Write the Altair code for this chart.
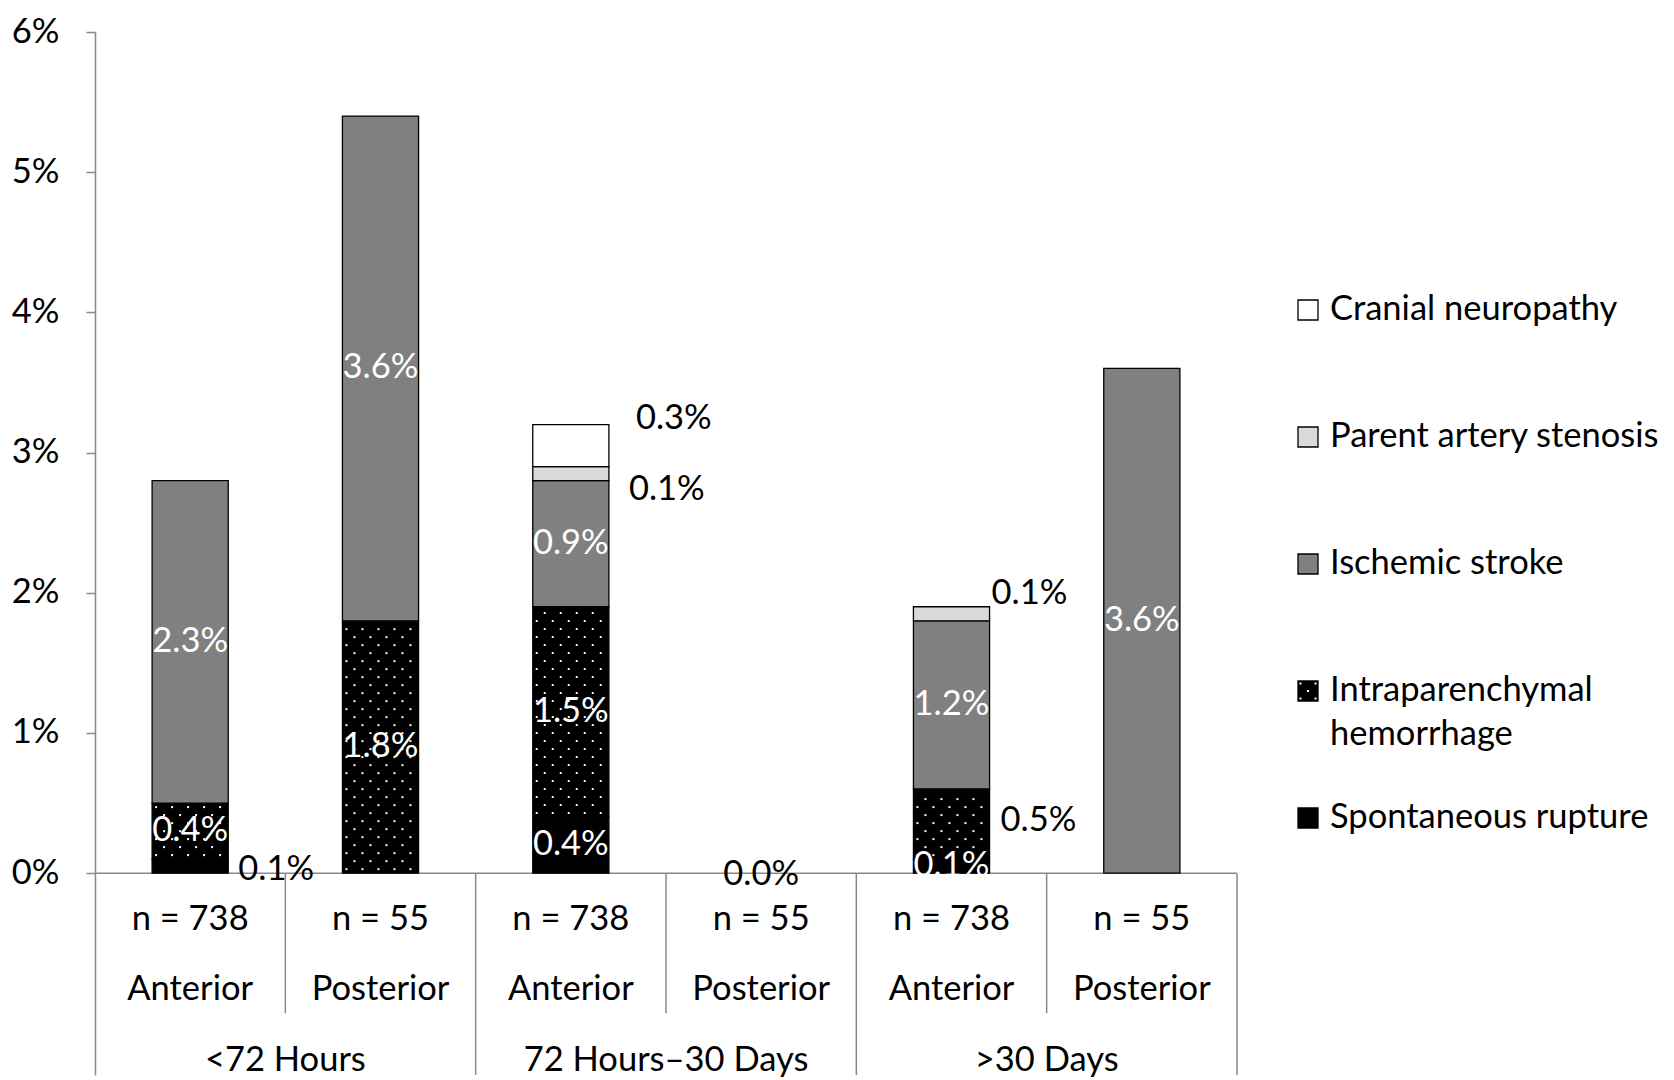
import altair as alt
import pandas as pd

# ---------------- data ----------------
timing = ["<72 Hours", "<72 Hours", "72 Hours–30 Days", "72 Hours–30 Days", ">30 Days", ">30 Days"]
location = ["Anterior", "Posterior", "Anterior", "Posterior", "Anterior", "Posterior"]
n_labels = ["n = 738", "n = 55", "n = 738", "n = 55", "n = 738", "n = 55"]

series = ["Spontaneous rupture", "Intraparenchymal hemorrhage", "Ischemic stroke",
          "Parent artery stenosis", "Cranial neuropathy"]
spontaneous = [0.1, 0.0, 0.4, 0.0, 0.1, 0.0]
iph = [0.4, 1.8, 1.5, 0.0, 0.5, 0.0]
ischemic = [2.3, 3.6, 0.9, 0.0, 1.2, 3.6]
stenosis = [0.0, 0.0, 0.1, 0.0, 0.1, 0.0]
cranial = [0.0, 0.0, 0.3, 0.0, 0.0, 0.0]

# where each data label sits: in = white inside, out = right of bar, zero = on baseline
spontaneous_lbl = ["out", "", "in", "zero", "in", ""]
iph_lbl = ["in", "in", "in", "", "out", ""]
ischemic_lbl = ["in", "in", "in", "", "in", "in"]
stenosis_lbl = ["", "", "out", "", "out", ""]
cranial_lbl = ["", "", "out", "", "", ""]

legend_order = ["Cranial neuropathy", "Parent artery stenosis", "Ischemic stroke",
                "Intraparenchymal hemorrhage", "Spontaneous rupture"]
legend_text = ["Cranial neuropathy", "Parent artery stenosis", "Ischemic stroke",
               "Intraparenchymal\nhemorrhage", "Spontaneous rupture"]
fills = ["#000000", "#000000", "#808080", "#d9d9d9", "#ffffff"]

# ---------------- style / layout ----------------
FONT = "Lato"
FS = 34.5
W, H = 1142, 1043
YMIN, YMAX = -1.44, 6.0
PXY = H / (YMAX - YMIN)
PXX = W / 6.0
DOT_DY = 8 / PXY
DOT_DX = 16 / PXX
HALF = 0.2  # half bar width in slot units
ROW1, ROW2, ROW3 = -47 / PXY, -117 / PXY, -188 / PXY
SUB_BOTTOM = -140 / PXY
AXIS_GRAY = "#898989"
# manual nudges (px: right, down) of data labels, like dragged labels in the original
LABEL_NUDGE = {
    (0, "Spontaneous rupture"): (0, 4),
    (2, "Cranial neuropathy"): (17, -27),
    (2, "Parent artery stenosis"): (10, 16),
    (3, "Spontaneous rupture"): (0, 2),
    (4, "Intraparenchymal hemorrhage"): (1, -3),
    (4, "Parent artery stenosis"): (-8, -20),
}

rows = []
for k, (s, vals, lbls) in enumerate(zip(series, [spontaneous, iph, ischemic, stenosis, cranial],
                                        [spontaneous_lbl, iph_lbl, ischemic_lbl, stenosis_lbl, cranial_lbl])):
    for i in range(6):
        ndx, ndy = LABEL_NUDGE.get((i, s), (0, 0))
        rows.append(dict(idx=i, series=s, order=k, value=vals[i], place=lbls[i], ndx=ndx, ndy=ndy))
df = pd.DataFrame(rows)

xs = alt.Scale(domain=[-0.5, 5.5], nice=False, zero=False)
ys = alt.Scale(domain=[YMIN, YMAX], nice=False, zero=False)
fill_scale = alt.Scale(domain=series, range=fills)

yaxis = alt.Axis(values=[0, 1, 2, 3, 4, 5, 6], labelExpr="datum.value + '%'", title=None, grid=False,
                 tickSize=9, tickColor=AXIS_GRAY, tickWidth=1.5, domainColor=AXIS_GRAY, domainWidth=1.5,
                 labelFont=FONT, labelFontSize=FS, labelColor="black", labelPadding=27)


def Y(field):
    return alt.Y(field, scale=ys, axis=yaxis)


def X(field):
    return alt.X(field, scale=xs, axis=None)


base = (alt.Chart(df)
        .transform_stack(stack="value", groupby=["idx"], sort=[alt.SortField("order", order="ascending")],
                         as_=["y0", "y1"])
        .transform_calculate(xl=f"datum.idx - {HALF}", xr=f"datum.idx + {HALF}",
                             ym="(datum.y0 + datum.y1) / 2",
                             txt="format(datum.value, '.1f') + '%'")
        .transform_calculate(xo=f"datum.xr + datum.ndx / {PXX}",
                             xc=f"datum.idx + datum.ndx / {PXX}",
                             yo=f"datum.ym - datum.ndy / {PXY}"))

# table / baseline lines derived from categories
lines = [dict(x0=-0.5, x1=5.5, y0=0.0, y1=0.0)]
for i in range(5):
    bottom = SUB_BOTTOM if timing[i] == timing[i + 1] else YMIN
    lines.append(dict(x0=i + 0.5, x1=i + 0.5, y0=0.0, y1=bottom))
lines.append(dict(x0=5.5, x1=5.5, y0=0.0, y1=YMIN))
lines_df = pd.DataFrame(lines)

rules = alt.Chart(lines_df).mark_rule(color=AXIS_GRAY, strokeWidth=1.5).encode(
    x=X("x0:Q"), x2="x1:Q", y=Y("y0:Q"), y2="y1:Q")

bars = base.transform_filter("datum.value > 0").mark_bar(stroke="black", strokeWidth=1.3).encode(
    x=X("xl:Q"), x2="xr:Q", y=Y("y0:Q"), y2="y1:Q",
    fill=alt.Fill("series:N", scale=fill_scale, legend=None))

dots = (base.transform_filter("datum.series == 'Intraparenchymal hemorrhage' && datum.value > 0")
        .transform_calculate(rws=f"sequence(0, floor((datum.y1 - datum.y0) / {DOT_DY}))")
        .transform_flatten(["rws"], as_=["r"])
        .transform_calculate(cls="sequence(0, 5)")
        .transform_flatten(["cls"], as_=["c"])
        .transform_calculate(dxp=f"datum.xl + {4 / PXX} + datum.c * {DOT_DX} + (datum.r % 2) * {DOT_DX / 2}",
                             dyp=f"datum.y0 + (datum.r + 0.5) * {DOT_DY}")
        .transform_filter(f"datum.dxp < datum.xr - {2 / PXX} && datum.dyp < datum.y1 - {2 / PXY}")
        .mark_square(color="white", size=4, opacity=1)
        .encode(x=X("dxp:Q"), y=Y("dyp:Q")))

lbl_in = base.transform_filter("datum.place == 'in'").mark_text(
    font=FONT, fontSize=FS, color="white", baseline="middle").encode(
    x=X("idx:Q"), y=Y("ym:Q"), text="txt:N")

lbl_out = base.transform_filter("datum.place == 'out'").mark_text(
    font=FONT, fontSize=FS, color="black", baseline="middle", align="left", dx=10).encode(
    x=X("xo:Q"), y=Y("yo:Q"), text="txt:N")

lbl_zero = base.transform_filter("datum.place == 'zero'").mark_text(
    font=FONT, fontSize=FS, color="black", baseline="middle").encode(
    x=X("xc:Q"), y=Y("yo:Q"), text="txt:N")

cats = pd.DataFrame({"idx": list(range(6)), "n": n_labels, "loc": location, "timing": timing})
cats["r1"] = ROW1
cats["r2"] = ROW2
cats["r3"] = ROW3
t_n = alt.Chart(cats).mark_text(font=FONT, fontSize=FS, color="black", baseline="middle").encode(
    x=X("idx:Q"), y=Y("r1:Q"), text="n:N")
t_loc = alt.Chart(cats).mark_text(font=FONT, fontSize=FS, color="black", baseline="middle").encode(
    x=X("idx:Q"), y=Y("r2:Q"), text="loc:N")
groups = cats.groupby("timing", sort=False).agg(idx=("idx", "mean"), r3=("r3", "first")).reset_index()
t_grp = alt.Chart(groups).mark_text(font=FONT, fontSize=FS, color="black", baseline="middle").encode(
    x=X("idx:Q"), y=Y("r3:Q"), text="timing:N")

main = alt.layer(rules, bars, dots, lbl_in, lbl_out, lbl_zero, t_n, t_loc, t_grp).properties(width=W, height=H)

# ---------------- legend ----------------
leg = pd.DataFrame({"series": legend_order, "label": legend_text})
leg_y = alt.Scale(type="point", domain=legend_order, range=[278, 786], padding=0)
leg_sq = alt.Chart(leg).mark_square(size=400, stroke="black", strokeWidth=1.3, opacity=1).encode(
    x=alt.value(20), y=alt.Y("series:N", scale=leg_y, axis=None),
    fill=alt.Fill("series:N", scale=fill_scale, legend=None))
leg_dots = (alt.Chart(leg).transform_filter("datum.series == 'Intraparenchymal hemorrhage'")
            .transform_calculate(rws="sequence(-1, 2)").transform_flatten(["rws"], as_=["r"])
            .transform_calculate(cls="sequence(-1, 2)").transform_flatten(["cls"], as_=["c"])
            .transform_filter("(datum.r + datum.c) % 2 == 0")
            .transform_calculate(px="20 + datum.c * 7.5", oy="datum.r * 7.5")
            .mark_square(color="white", size=4, opacity=1)
            .encode(x=alt.X("px:Q", scale=None), y=alt.Y("series:N", scale=leg_y, axis=None),
                    yOffset=alt.YOffset("oy:Q", scale=None)))
leg_txt = alt.Chart(leg).mark_text(font=FONT, fontSize=FS, color="black", align="left", baseline="top",
                                   dy=-17, lineBreak="\n", lineHeight=44).encode(
    x=alt.value(42), y=alt.Y("series:N", scale=leg_y, axis=None), text="label:N")
legend = alt.layer(leg_sq, leg_dots, leg_txt).properties(width=330, height=H)

chart = (alt.hconcat(main, legend, spacing=50)
         .properties(padding={"left": 3, "top": 6, "right": 4, "bottom": 0}, background="white")
         .configure_view(stroke=None)
         .configure_concat(spacing=50))

chart.save("out.html", embed_options={"renderer": "svg", "actions": False})
